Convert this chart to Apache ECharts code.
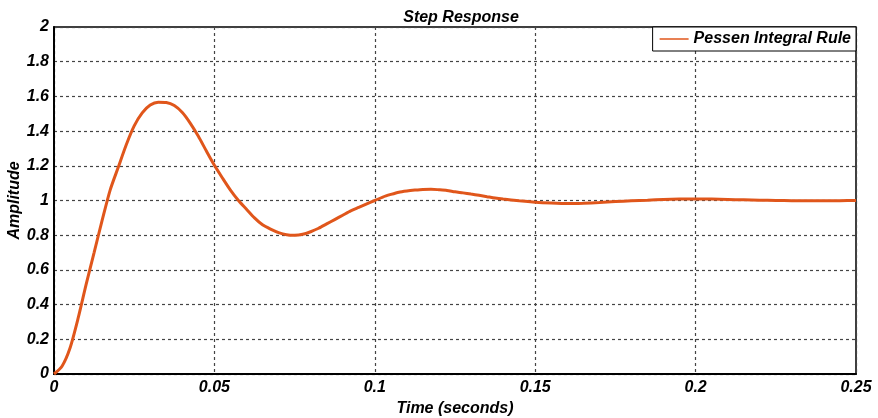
<!DOCTYPE html>
<html>
<head>
<meta charset="utf-8">
<script src="https://cdn.jsdelivr.net/npm/echarts@6/dist/echarts.min.js"></script>
<style>
  html, body { margin: 0; padding: 0; background: #fff; }
  #chart { width: 878px; height: 418px; }
</style>
</head>
<body>
<div id="chart"></div>
<script>
// Step response samples: time in seconds, amplitude
const timeValues = [
  0, 0.0025, 0.005, 0.0075, 0.010, 0.0125, 0.015, 0.0175, 0.020, 0.0225,
  0.025, 0.0275, 0.030, 0.0325, 0.035, 0.0375, 0.040, 0.0425, 0.045, 0.0475,
  0.050, 0.0525, 0.055, 0.0575, 0.060, 0.0625, 0.065, 0.0675, 0.070, 0.0725,
  0.075, 0.0775, 0.080, 0.0825, 0.085, 0.0875, 0.090, 0.0925, 0.095, 0.0975,
  0.100, 0.1025, 0.105, 0.1075, 0.110, 0.1125, 0.115, 0.1175, 0.120, 0.1225,
  0.125, 0.1275, 0.130, 0.1325, 0.135, 0.1375, 0.140, 0.145, 0.150, 0.155,
  0.160, 0.165, 0.170, 0.175, 0.180, 0.185, 0.190, 0.195, 0.200, 0.205,
  0.210, 0.215, 0.220, 0.225, 0.230, 0.235, 0.240, 0.245, 0.250
];
const amplitudeValues = [
  0, 0.045, 0.15, 0.32, 0.515, 0.70, 0.885, 1.06, 1.19, 1.32,
  1.43, 1.505, 1.55, 1.567, 1.565, 1.547, 1.507, 1.445, 1.37, 1.285,
  1.203, 1.13, 1.06, 1.00, 0.95, 0.90, 0.86, 0.835, 0.815, 0.803,
  0.80, 0.805, 0.82, 0.84, 0.865, 0.89, 0.915, 0.94, 0.96, 0.98,
  1.00, 1.02, 1.035, 1.048, 1.055, 1.06, 1.064, 1.065, 1.062, 1.058,
  1.05, 1.044, 1.037, 1.03, 1.022, 1.014, 1.008, 0.998, 0.99, 0.985,
  0.982, 0.984, 0.988, 0.994, 0.998, 1.002, 1.006, 1.008, 1.009, 1.008,
  1.006, 1.004, 1.002, 1.0, 0.999, 0.998, 0.998, 0.999, 1.0
];
const xTicks = [0, 0.05, 0.1, 0.15, 0.2, 0.25];
const yTicks = [0, 0.2, 0.4, 0.6, 0.8, 1, 1.2, 1.4, 1.6, 1.8, 2];
const seriesName = 'Pessen Integral Rule';

const FONT = '"Liberation Sans", Arial, sans-serif';
const lineColor = '#E0561B';

const chart = echarts.init(document.getElementById('chart'), null, { renderer: 'canvas' });

const boldItalic = (size) => ({
  color: '#000', fontFamily: FONT, fontSize: size, fontWeight: 'bold', fontStyle: 'italic'
});

chart.setOption({
  animation: false,
  backgroundColor: '#fff',
  title: {
    text: 'Step Response',
    left: 456, top: 5, textAlign: 'center',
    textStyle: boldItalic(16)
  },
  legend: {
    right: 22, top: 27,
    data: [{ name: seriesName, icon: 'rect' }],
    itemWidth: 29, itemHeight: 1.5,
    itemGap: 6,
    padding: [4, 5, 4, 7],
    backgroundColor: '#fff',
    borderColor: '#000', borderWidth: 1,
    borderRadius: 0,
    textStyle: boldItalic(16)
  },
  grid: {
    left: 54, right: 22, top: 27, bottom: 44,
    outerBoundsMode: 'none',
    containLabel: false,
    show: true, borderColor: '#000', borderWidth: 1.5, backgroundColor: '#fff'
  },
  xAxis: {
    type: 'value', min: 0, max: 0.25, interval: 0.05,
    name: 'Time (seconds)', nameLocation: 'middle', nameGap: 27,
    nameMoveOverlap: false,
    nameTextStyle: boldItalic(16),
    axisLine: { lineStyle: { color: '#000', width: 2 } },
    axisTick: { show: false },
    axisLabel: Object.assign({ margin: 6, formatter: v => xTicks.includes(+v.toFixed(2)) ? String(+v.toFixed(2)) : '' }, boldItalic(16)),
    splitLine: { show: true, lineStyle: { color: '#444', width: 1.2, type: [3, 3] } }
  },
  yAxis: {
    type: 'value', min: 0, max: 2, interval: 0.2,
    name: 'Amplitude', nameLocation: 'middle', nameGap: 31, nameRotate: 90,
    nameMoveOverlap: false,
    nameTextStyle: boldItalic(16),
    axisLine: { show: true, lineStyle: { color: '#000', width: 2 } },
    axisTick: { show: false },
    axisLabel: Object.assign({ margin: 5, formatter: v => yTicks.includes(+v.toFixed(1)) ? String(+v.toFixed(1)) : '' }, boldItalic(16)),
    splitLine: { show: true, lineStyle: { color: '#444', width: 1.2, type: [3, 3] } }
  },
  series: [{
    name: seriesName,
    type: 'line',
    data: timeValues.map((t, i) => [t, amplitudeValues[i]]),
    smooth: 0.25,
    showSymbol: false,
    itemStyle: { color: lineColor },
    lineStyle: { color: lineColor, width: 3 },
    z: 5
  }]
});
</script>
</body>
</html>
